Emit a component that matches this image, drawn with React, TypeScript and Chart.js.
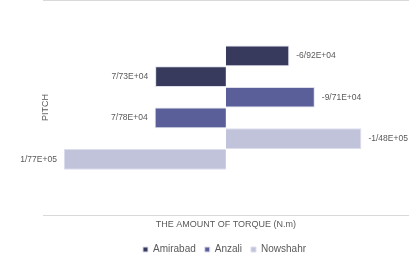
import React, { useEffect, useRef } from "react";
import { Chart, registerables } from "chart.js";

Chart.register(...registerables);

const cities = ["Amirabad", "Anzali", "Nowshahr"];
const cityColors = ["#373a5d", "#5a5e99", "#c1c3db"];
// For each city: [negative pitch value, positive pitch value]
const amirabadValues = [-69200, 77300];
const anzaliValues = [-97100, 77800];
const nowshahrValues = [-148000, 177000];
const cityValues = [amirabadValues, anzaliValues, nowshahrValues];
const categoryLabels = [""];

const xTitle = "THE AMOUNT OF TORQUE (N.m)";
const yTitle = "PITCH";

const FONT = "'Liberation Sans', Arial, sans-serif";

function formatValue(v: number): string {
  const s = v.toExponential(2); // e.g. -6.92e+4
  const [mant, exp] = s.split("e");
  const sign = exp[0] === "-" ? "-" : "+";
  const digits = exp.replace(/[+-]/, "").padStart(2, "0");
  return mant.replace(".", "/") + "E" + sign + digits;
}

const labelPlugin = {
  id: "barValueLabels",
  afterDatasetsDraw(chart: any) {
    const ctx = chart.ctx;
    ctx.save();
    ctx.font = `8.5px ${FONT}`;
    ctx.fillStyle = "#595959";
    ctx.textBaseline = "middle";
    chart.data.datasets.forEach((ds: any, di: number) => {
      const meta = chart.getDatasetMeta(di);
      meta.data.forEach((el: any, i: number) => {
        const v = ds.data[i];
        if (v == null) return;
        const left = el.x < el.base;
        ctx.textAlign = left ? "right" : "left";
        ctx.fillText(formatValue(v), left ? el.x - 7 : el.x + 7, el.y);
      });
    });
    ctx.restore();
  },
};

export default function App() {
  const ref = useRef<HTMLCanvasElement | null>(null);

  useEffect(() => {
    if (!ref.current) return;
    const datasets: any[] = [];
    cities.forEach((city, ci) => {
      cityValues[ci].forEach((v) => {
        datasets.push({
          label: city,
          data: [v],
          backgroundColor: cityColors[ci],
          borderColor: "#dcdded",
          borderWidth: 1,
          categoryPercentage: 0.577,
          barPercentage: 1,
        });
      });
    });

    const chart = new Chart(ref.current, {
      type: "bar",
      data: { labels: categoryLabels, datasets },
      plugins: [labelPlugin],
      options: {
        indexAxis: "y",
        animation: false,
        responsive: true,
        maintainAspectRatio: false,
        layout: { padding: { left: 40, right: 0, top: 0, bottom: 8.5 } },
        plugins: {
          tooltip: { enabled: false },
          legend: {
            position: "bottom",
            labels: {
              color: "#595959",
              font: { size: 10, family: FONT },
              boxWidth: 5,
              boxHeight: 5,
              padding: 9,
              filter: (item: any) => item.datasetIndex % 2 === 0,
            },
          },
        },
        scales: {
          x: {
            type: "linear",
            min: -200000,
            max: 200000,
            reverse: true,
            grid: { display: false, drawTicks: false },
            border: { display: false },
            ticks: { display: false },
            title: {
              display: true,
              text: xTitle,
              color: "#595959",
              font: { size: 9, family: FONT },
              padding: { top: 4, bottom: 5.5 },
            },
          },
          y: {
            type: "category",
            grid: { display: true, offset: true, color: "#d9d9d9", drawTicks: false },
            border: { display: false },
            ticks: { display: false },
            title: {
              display: true,
              text: yTitle,
              color: "#595959",
              font: { size: 9, family: FONT },
              padding: { top: 0, bottom: -8 },
            },
          },
        },
      },
    });
    return () => chart.destroy();
  }, []);

  return (
    <div style={{ position: "fixed", left: 0, top: 0, width: 409, height: 273, background: "#fff" }}>
      <canvas ref={ref} />
    </div>
  );
}
